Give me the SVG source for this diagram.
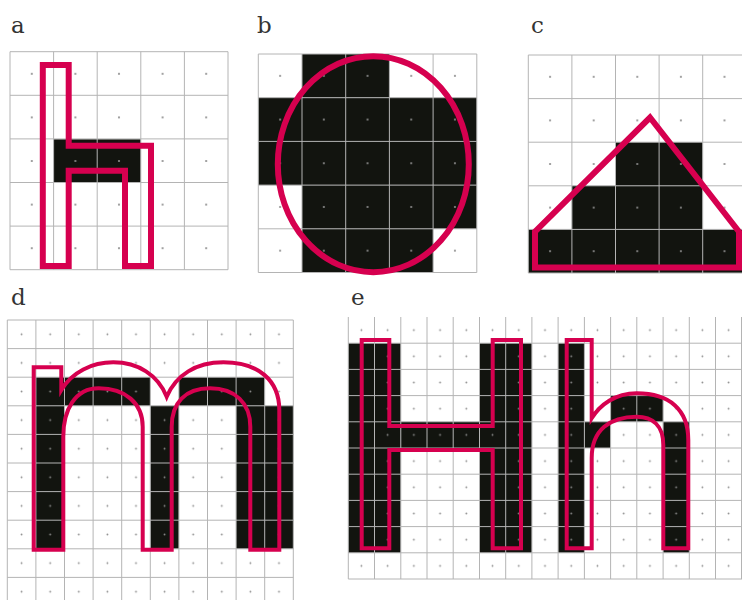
<svg xmlns="http://www.w3.org/2000/svg" width="742" height="600" viewBox="0 0 742 600">
<style>
.lbl{font-family:"DejaVu Serif","Liberation Serif",serif;font-size:23px;fill:#333}
.blk{fill:#12140f}
.grid{stroke:#b4b4b4;stroke-width:1;fill:none}
.red{fill:none;stroke:#d6004f;stroke-linejoin:miter}
.thick{stroke-width:6}
.thin{stroke-width:4}
</style>
<defs>
<pattern id="da" x="10" y="52" width="43.6" height="43.6" patternUnits="userSpaceOnUse"><circle cx="21.8" cy="21.8" r="1.1" fill="#8c8c8c"/></pattern>
<pattern id="db" x="258.3" y="54" width="43.7" height="43.7" patternUnits="userSpaceOnUse"><circle cx="21.85" cy="21.85" r="1.1" fill="#8c8c8c"/></pattern>
<pattern id="dc" x="528.3" y="55" width="43.6" height="43.6" patternUnits="userSpaceOnUse"><circle cx="21.8" cy="21.8" r="1.1" fill="#8c8c8c"/></pattern>
<pattern id="dd" x="7.3" y="320" width="28.6" height="28.6" patternUnits="userSpaceOnUse"><circle cx="14.3" cy="14.3" r="0.9" fill="#8c8c8c"/></pattern>
<pattern id="de" x="348.3" y="317" width="26.23" height="26.2" patternUnits="userSpaceOnUse"><circle cx="13.1" cy="13.1" r="0.9" fill="#8c8c8c"/></pattern>
</defs>

<g id="panel-a">
<text class="lbl" x="11" y="33">a</text>
<rect class="blk" x="53.6" y="139.2" width="87.2" height="43.6"/>
<path class="grid" d="M10 51.7H228M10 95.3H228M10 138.9H228M10 182.5H228M10 226.1H228M10 269.7H228M10 51.7V269.7M53.6 51.7V269.7M97.2 51.7V269.7M140.8 51.7V269.7M184.4 51.7V269.7M228 51.7V269.7"/>
<rect x="10" y="51.7" width="218" height="218" fill="url(#da)"/>
<path class="red thick" d="M42.8 65H68.7V145.7H151V266H125V170.7H68.7V266H42.8Z"/>
</g>

<g id="panel-b">
<text class="lbl" x="257" y="33">b</text>
<rect class="blk" x="302" y="54" width="87.4" height="43.7"/>
<rect class="blk" x="258.3" y="97.7" width="218.5" height="87.4"/>
<rect class="blk" x="302" y="185.1" width="174.8" height="43.7"/>
<rect class="blk" x="302" y="228.8" width="131.1" height="43.7"/>
<path class="grid" d="M258.3 54H476.8M258.3 97.7H476.8M258.3 141.4H476.8M258.3 185.1H476.8M258.3 228.8H476.8M258.3 272.5H476.8M258.3 54V272.5M302 54V272.5M345.7 54V272.5M389.4 54V272.5M433.1 54V272.5M476.8 54V272.5"/>
<rect x="258.3" y="54" width="218.5" height="218.5" fill="url(#db)"/>
<ellipse class="red thick" cx="373.3" cy="164.2" rx="95.5" ry="108"/>
</g>

<g id="panel-c">
<text class="lbl" x="531" y="33">c</text>
<rect class="blk" x="615.5" y="142.2" width="87.2" height="43.6"/>
<rect class="blk" x="571.9" y="185.8" width="130.8" height="43.6"/>
<rect class="blk" x="528.3" y="229.4" width="213.7" height="43.6"/>
<path class="grid" d="M528.3 55H742M528.3 98.6H742M528.3 142.2H742M528.3 185.8H742M528.3 229.4H742M528.3 273H742M528.3 55V273M571.9 55V273M615.5 55V273M659.1 55V273M702.7 55V273"/>
<rect x="528.3" y="55" width="213.7" height="218" fill="url(#dc)"/>
<path class="red thick" d="M535 267.5V231.7L650 117.5L739 231.7V267.5Z"/>
</g>

<g id="panel-d">
<text class="lbl" x="11" y="305">d</text>
<rect class="blk" x="35.9" y="377.2" width="114.4" height="28.6"/>
<rect class="blk" x="178.9" y="377.2" width="85.8" height="28.6"/>
<rect class="blk" x="35.9" y="405.8" width="28.6" height="143"/>
<rect class="blk" x="150.3" y="405.8" width="28.6" height="143"/>
<rect class="blk" x="236.1" y="405.8" width="57.2" height="143"/>
<path class="grid" d="M7.3 320H293.3M7.3 348.6H293.3M7.3 377.2H293.3M7.3 405.8H293.3M7.3 434.4H293.3M7.3 463H293.3M7.3 491.6H293.3M7.3 520.2H293.3M7.3 548.8H293.3M7.3 577.4H293.3M7.3 320V600M35.9 320V600M64.5 320V600M93.1 320V600M121.7 320V600M150.3 320V600M178.9 320V600M207.5 320V600M236.1 320V600M264.7 320V600M293.3 320V600"/>
<rect x="7.3" y="320" width="286" height="280" fill="url(#dd)"/>
<path class="red thin" d="M33.7 549.7V367.3H61.3V390C72 372 92 362.3 113.3 362.3C138 362.3 158 375 166.7 396.7C176 375 196 362.3 223.3 362.3C258 362.3 279.3 380 279.3 410V549.7H250.3V426.7C250.3 403 235 388.3 210 388.3C185 388.3 171.7 403 171.7 426.7V549.7H142.7V426.7C142.7 403 125 388.3 98.7 388.3C75 388.3 63.3 410 63.3 436.7V549.7Z"/>
</g>

<g id="panel-e">
<text class="lbl" x="351" y="305">e</text>
<rect class="blk" x="348.3" y="343.2" width="52.5" height="209.6"/>
<rect class="blk" x="479.5" y="343.2" width="52.4" height="209.6"/>
<rect class="blk" x="400.8" y="421.8" width="78.7" height="26.2"/>
<rect class="blk" x="558.1" y="343.2" width="26.3" height="209.6"/>
<rect class="blk" x="584.4" y="421.8" width="26.2" height="26.2"/>
<rect class="blk" x="610.6" y="395.6" width="52.5" height="26.2"/>
<rect class="blk" x="663.1" y="421.8" width="26.2" height="131"/>
<path class="grid" d="M348.3 343.2H742M348.3 369.4H742M348.3 395.6H742M348.3 421.8H742M348.3 448H742M348.3 474.2H742M348.3 500.4H742M348.3 526.6H742M348.3 552.8H742M348.3 579H742M348.3 317V579M374.5 317V579M400.8 317V579M427 317V579M453.2 317V579M479.5 317V579M505.7 317V579M531.9 317V579M558.1 317V579M584.4 317V579M610.6 317V579M636.8 317V579M663.1 317V579M689.3 317V579M715.5 317V579M741.5 317V579"/>
<rect x="348.3" y="317" width="393.7" height="262" fill="url(#de)"/>
<path class="red thin" d="M361.7 340H389.3V426H492.7V340H521V548.3H492.7V450H389.3V548.3H361.7Z"/>
<path class="red thin" d="M566.7 340H591.7V418.3C600 405 615 393.3 636.7 393.3C670 393.3 688.3 410 688.3 440V548.3H663.3V445C663.3 425 652 416.7 636.7 416.7C610 416.7 591.7 430 591.7 458V548.3H566.7Z"/>
</g>
</svg>
